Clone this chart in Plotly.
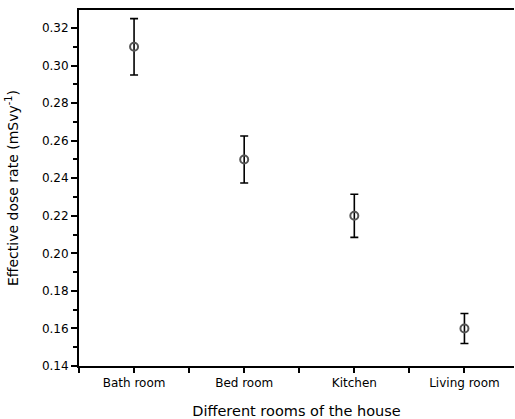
import plotly.graph_objects as go

# Effective dose rate per room of the house
rooms = ["Bath room", "Bed room", "Kitchen", "Living room"]
dose_rate = [0.310, 0.250, 0.220, 0.160]
dose_err = [0.015, 0.0125, 0.0115, 0.008]
y_ticks = [0.14, 0.16, 0.18, 0.20, 0.22, 0.24, 0.26, 0.28, 0.30, 0.32]

x_pos = list(range(len(rooms)))
FONT = "DejaVu Sans, Liberation Sans, Arial, sans-serif"

fig = go.Figure(
    go.Scatter(
        x=x_pos,
        y=dose_rate,
        mode="markers",
        marker=dict(symbol="circle-open", size=8, color="#555555",
                    line=dict(width=2, color="#555555")),
        error_y=dict(type="data", array=dose_err, visible=True,
                     color="black", thickness=1.6, width=4),
        showlegend=False,
    )
)

fig.update_layout(
    width=515,
    height=419,
    margin=dict(l=79, r=1, t=10, b=53, autoexpand=False),
    paper_bgcolor="white",
    plot_bgcolor="white",
    font=dict(family=FONT, color="black"),
)

fig.update_xaxes(
    range=[-0.5, 3.45],
    tickmode="array",
    tickvals=x_pos,
    ticktext=rooms,
    ticks="outside",
    ticklen=5,
    tickwidth=1.5,
    tickcolor="black",
    tickfont=dict(size=12),
    minor=dict(tickmode="array", tickvals=[-0.5, 0.5, 1.5, 2.5],
               ticks="outside", ticklen=5, tickwidth=1.5, tickcolor="black"),
    showline=True,
    linecolor="black",
    linewidth=2,
    mirror=True,
    showgrid=False,
    zeroline=False,
    automargin=False,
    title=dict(text="Different rooms of the house", font=dict(size=14.5), standoff=16),
)

fig.update_yaxes(
    range=[0.14, 0.3296],
    tickmode="array",
    tickvals=y_ticks,
    ticktext=[f"{v:.2f}" for v in y_ticks],
    ticks="outside",
    ticklen=6,
    tickwidth=1.5,
    tickcolor="black",
    tickfont=dict(size=12),
    minor=dict(tickmode="linear", tick0=0.15, dtick=0.02,
               ticks="outside", ticklen=4, tickwidth=1.5, tickcolor="black"),
    showline=True,
    linecolor="black",
    linewidth=2,
    showgrid=False,
    zeroline=False,
    automargin=False,
    title=dict(text="Effective dose rate (mSvy<sup>-1</sup>)", font=dict(size=14), standoff=20),
)

fig.write_html("out.html")
